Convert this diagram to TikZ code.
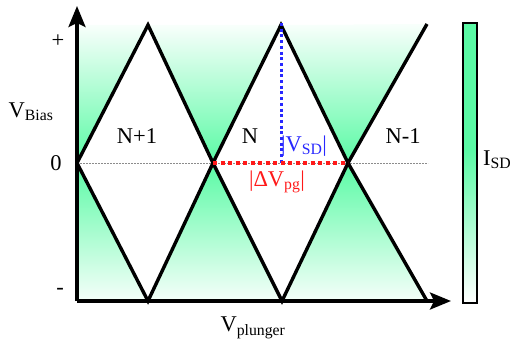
\documentclass[tikz,border=0pt]{standalone}
\usepackage{fontspec}
\setmainfont{Liberation Serif}
\usepackage{tikz}
\usetikzlibrary{positioning,arrows.meta}
\definecolor{isdgreen}{RGB}{90,250,165}
\definecolor{sdblue}{RGB}{40,40,255}
\definecolor{pgred}{RGB}{255,25,25}
\definecolor{zerogray}{RGB}{140,140,140}
\tikzset{
  edgeline/.style={line width=3.4pt, line join=miter, draw=black},
  axisline/.style={-{Stealth[length=21pt,width=17pt,inset=4pt]}, line width=3.4pt},
  upshade/.style={top color=isdgreen!4, middle color=isdgreen!55, bottom color=isdgreen},
  downshade/.style={top color=isdgreen, middle color=isdgreen!45, bottom color=isdgreen!6},
  zeroline/.style={draw=zerogray, line width=0.9pt, dash pattern=on 2pt off 1pt},
  sdline/.style={draw=sdblue, line width=3pt, dash pattern=on 3pt off 2.7pt},
  pgline/.style={draw=pgred, line width=4pt, dash pattern=on 4pt off 3.5pt},
  biglabel/.style={font=\fontsize{22.5}{26}\selectfont, inner sep=0pt},
  barbox/.style={draw=black, line width=1.6pt}
}

\begin{document}
\begin{tikzpicture}[x=1pt, y=-1pt]
  \useasboundingbox (0,0) rectangle (510,345);

  % corner points of the diamonds
  \coordinate (orig) at (77,301);
  \coordinate (zl) at (77,163);
  \coordinate (tl) at (77,25);
  \coordinate (p1) at (148,25);
  \coordinate (q1) at (148,301);
  \coordinate (c1) at (213,163);
  \coordinate (p2) at (281,25);
  \coordinate (q2) at (282,301);
  \coordinate (c2) at (348,163);
  \coordinate (p3) at (427,24);
  \coordinate (q3) at (427,301);
  \coordinate (zr) at (428,163);

  % green regions
  \shade[upshade] (zl) -- (p1) -- (tl) -- cycle;
  \shade[upshade] (p1) -- (c1) -- (p2) -- cycle;
  \shade[upshade] (p2) -- (c2) -- (p3) -- cycle;
  \shade[downshade] (zl) -- (q1) -- (orig) -- cycle;
  \shade[downshade] (c1) -- (q2) -- (q1) -- cycle;
  \shade[downshade] (c2) -- (q3) -- (q2) -- cycle;

  \draw[zeroline] (zl) -- (zr);

  % edges
  \draw[edgeline] (zl) -- (p1) -- (c1) -- (p2) -- (c2) -- (p3);
  \draw[edgeline] (zl) -- (q1) -- (c1) -- (q2) -- (c2) -- (q3);

  \draw[sdline] ([yshift=2pt]p2) -- (p2 |- c1);
  \draw[pgline] (c1) -- (c2);

  % axes
  \coordinate (ytip) at (77,6);
  \coordinate (xtip) at (451,301);
  \draw[axisline] (orig) -- (ytip);
  \draw[axisline] (orig) -- (xtip);

  % labels
  \node[biglabel] (plus) at (58,41) {+};
  \node[biglabel] (zero) at (56,163) {0};
  \node[biglabel] (minus) at (60,291) {-};
  \node[biglabel] (vbias) at (31,112) {V\textsubscript{Bias}};
  \node[biglabel] (vplung) at (253,328) {V\textsubscript{plunger}};
  \node[biglabel] (nplus) at (137,136) {N+1};
  \node[biglabel] (nzero) at (250,136) {N};
  \node[biglabel] (nminus) at (403,136) {N-1};
  \node[biglabel, text=sdblue] (vsd) at (304,146) {|V\textsubscript{SD}|};
  \node[biglabel, text=pgred] (dvpg) at (277,182) {|ΔV\textsubscript{pg}|};

  % colour bar
  \fill[isdgreen] (463,23) rectangle (477,150);
  \shade[top color=isdgreen, bottom color=white] (463,150) rectangle (477,303);
  \draw[barbox] (463,23) rectangle (477,303);
  \node[biglabel, anchor=west] (isd) at (483,160) {I\textsubscript{SD}};
\end{tikzpicture}
\end{document}
